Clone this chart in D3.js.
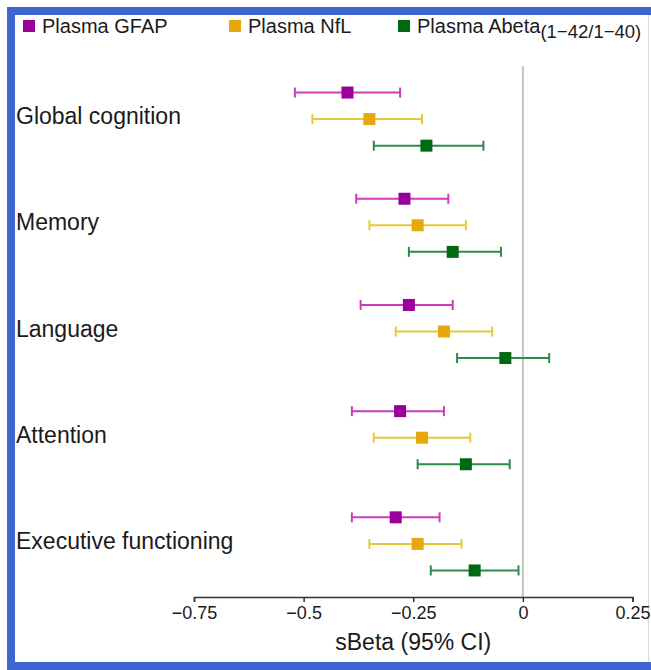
<!DOCTYPE html>
<html>
<head>
<meta charset="utf-8">
<script src="https://cdn.jsdelivr.net/npm/d3@7"></script>
<style>
  body { margin: 0; background: #fff; }
  svg text { font-family: "Liberation Sans", Arial, sans-serif; fill: #1a1a1a; }
</style>
</head>
<body>
<svg width="651" height="670"></svg>
<script>
// outcomes, one group per row block
var categories = ["Global cognition", "Memory", "Language", "Attention", "Executive functioning"]
var seriesNames = ["Plasma GFAP", "Plasma NfL", "Plasma Abeta"]

// sBeta and 95% CI
var gfapEst  = [-0.40, -0.27, -0.26, -0.28, -0.29]
var gfapLo   = [-0.52, -0.38, -0.37, -0.39, -0.39]
var gfapHi   = [-0.28, -0.17, -0.16, -0.18, -0.19]
var nflEst   = [-0.35, -0.24, -0.18, -0.23, -0.24]
var nflLo    = [-0.48, -0.35, -0.29, -0.34, -0.35]
var nflHi    = [-0.23, -0.13, -0.07, -0.12, -0.14]
var abetaEst = [-0.22, -0.16, -0.04, -0.13, -0.11]
var abetaLo  = [-0.34, -0.26, -0.15, -0.24, -0.21]
var abetaHi  = [-0.09, -0.05, 0.06, -0.03, -0.01]

var xTicks = [-0.75, -0.5, -0.25, 0, 0.25]

var squareColors = ["#990099", "#e6a80c", "#006a12"]
var lineColors = ["#cc3cb8", "#e8c83a", "#2e8a4c"]

var svg = d3.select("svg")

// frame around the screenshot
svg.append("rect").attr("x", 7).attr("y", 7).attr("width", 644).attr("height", 8).attr("fill", "#3f66cf")
svg.append("rect").attr("x", 7).attr("y", 7).attr("width", 8).attr("height", 663).attr("fill", "#3f66cf")
svg.append("rect").attr("x", 7).attr("y", 662).attr("width", 644).attr("height", 8).attr("fill", "#3f66cf")
svg.append("line").attr("x1", 648.5).attr("x2", 648.5).attr("y1", 15).attr("y2", 662)
    .attr("stroke", "#d8d8d8").attr("stroke-width", 1)

var x = d3.scaleLinear().domain([-0.75, 0.25]).range([194, 632.5])
// one slot per row, 4 slots per outcome (3 markers + gap)
var y = d3.scaleLinear().domain([-1, 19]).range([66, 597])

// build rows from the arrays
var rows = []
var est = [gfapEst, nflEst, abetaEst], lo = [gfapLo, nflLo, abetaLo], hi = [gfapHi, nflHi, abetaHi]
categories.forEach(function(c, i){
    seriesNames.forEach(function(s, j){
        rows.push({cat: c, s: j, slot: i * 4 + j, est: est[j][i], lo: lo[j][i], hi: hi[j][i]})
    })
})

// zero line
svg.append("line")
    .attr("x1", x(0)).attr("x2", x(0))
    .attr("y1", y(-1)).attr("y2", y(19))
    .attr("stroke", "#c4c4c4").attr("stroke-width", 2)

// x axis
var xAxis = d3.axisBottom(x).tickValues(xTicks).tickSize(5).tickPadding(4)
    .tickFormat(function(d){ return d == 0 ? "0" : d3.format("")(d).replace("-", "\u2212") })
var gx = svg.append("g").attr("transform", "translate(0," + y(19) + ")").call(xAxis)
gx.select(".domain").attr("stroke", "#333").attr("stroke-width", 1.5)
gx.selectAll(".tick line").attr("stroke", "#333").attr("stroke-width", 1.5)
gx.selectAll(".tick text").attr("font-size", 18).attr("fill", "#1a1a1a")
    .attr("font-family", "Liberation Sans, Arial, sans-serif")

svg.append("text")
    .attr("x", x(-0.25)).attr("y", 650)
    .attr("text-anchor", "middle")
    .attr("font-size", 23)
    .text("sBeta (95% CI)")

// category labels
svg.selectAll(".cat").data(categories).enter().append("text")
    .attr("class", "cat")
    .attr("x", 16)
    .attr("y", function(d, i){ return y(i * 4 + 1) + 5 })
    .attr("font-size", 23)
    .text(function(d){ return d })

// error bars
var bars = svg.selectAll(".bar").data(rows).enter().append("g").attr("class", "bar")
bars.append("line")
    .attr("x1", function(d){ return x(d.lo) }).attr("x2", function(d){ return x(d.hi) })
    .attr("y1", function(d){ return y(d.slot) }).attr("y2", function(d){ return y(d.slot) })
    .attr("stroke", function(d){ return lineColors[d.s] }).attr("stroke-width", 2)
bars.append("line")
    .attr("x1", function(d){ return x(d.lo) }).attr("x2", function(d){ return x(d.lo) })
    .attr("y1", function(d){ return y(d.slot) - 5 }).attr("y2", function(d){ return y(d.slot) + 5 })
    .attr("stroke", function(d){ return lineColors[d.s] }).attr("stroke-width", 2)
bars.append("line")
    .attr("x1", function(d){ return x(d.hi) }).attr("x2", function(d){ return x(d.hi) })
    .attr("y1", function(d){ return y(d.slot) - 5 }).attr("y2", function(d){ return y(d.slot) + 5 })
    .attr("stroke", function(d){ return lineColors[d.s] }).attr("stroke-width", 2)
bars.append("rect")
    .attr("x", function(d){ return x(d.est) - 6 }).attr("y", function(d){ return y(d.slot) - 6 })
    .attr("width", 12).attr("height", 12)
    .attr("fill", function(d){ return squareColors[d.s] })

// legend
var legendX = [23, 229, 398]
var lg = svg.selectAll(".leg").data(seriesNames).enter().append("g").attr("class", "leg")
    .attr("transform", function(d, i){ return "translate(" + legendX[i] + ",0)" })
lg.append("rect").attr("x", 0).attr("y", 20).attr("width", 12).attr("height", 12)
    .attr("fill", function(d, i){ return squareColors[i] })
var lt = lg.append("text").attr("x", 19).attr("y", 33).attr("font-size", 20)
    .text(function(d){ return d })
lt.filter(function(d, i){ return i == 2 }).append("tspan")
    .attr("dy", 5).attr("font-size", 18.5)
    .text("(1\u221242/1\u221240)")
</script>
</body>
</html>
